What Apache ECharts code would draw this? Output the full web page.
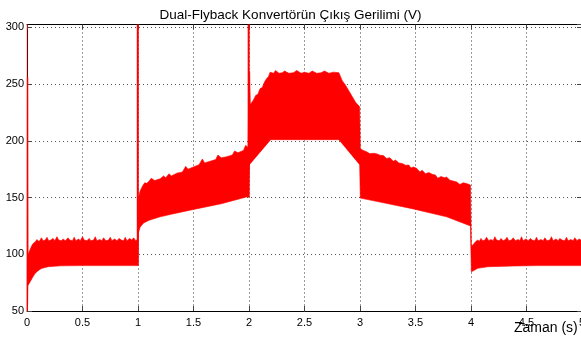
<!DOCTYPE html>
<html>
<head>
<meta charset="utf-8">
<script src="https://cdn.jsdelivr.net/npm/echarts@6/dist/echarts.min.js"></script>
<style>
  html, body { margin: 0; padding: 0; background: #fff; }
  #chart { width: 581px; height: 343px; }
</style>
</head>
<body>
<div id="chart"></div>
<script>
// Output voltage of the dual-flyback converter: the switching ripple is dense,
// so it is drawn as the band between its upper and lower envelopes.
const titleText = 'Dual-Flyback Konvertörün Çıkış Gerilimi (V)';
const xLabelText = 'Zaman (s)';

// Time axis (s) and voltage axis (V)
const xMin = 0, xMax = 5, xStep = 0.5;
const yMin = 50, yMax = 302.5, yStep = 50;

// Upper envelope of the ripple: [time s, voltage V]
const upperEnv = [
  [0.000, 50], [0.003, 256], [0.008, 256], [0.010, 100], [0.027, 104], [0.045, 108],
  [0.060, 110], [0.075, 111], [0.090, 113], [0.105, 111.5], [0.115, 112], [0.130, 114.5],
  [0.145, 112], [0.165, 112.5], [0.180, 115], [0.195, 112], [0.215, 112.5], [0.235, 114],
  [0.250, 112], [0.270, 115.5], [0.285, 112.5], [0.310, 112], [0.325, 113.5], [0.345, 112],
  [0.370, 114.5], [0.385, 112.5], [0.410, 112], [0.425, 115], [0.440, 112], [0.465, 113.5],
  [0.480, 112], [0.500, 115.5], [0.515, 112.5], [0.540, 112], [0.560, 114], [0.575, 112],
  [0.600, 112.5], [0.615, 115.5], [0.630, 112], [0.655, 113], [0.675, 112], [0.690, 114.5],
  [0.710, 112], [0.735, 112.5], [0.750, 115], [0.765, 112], [0.790, 113.5], [0.810, 112],
  [0.830, 114], [0.850, 112.5], [0.870, 112], [0.885, 115], [0.900, 112], [0.925, 114],
  [0.945, 112.5], [0.960, 114.5], [0.980, 112], [0.996, 113],
  [1.004, 150], [1.020, 156], [1.040, 160], [1.060, 163], [1.080, 162.5], [1.100, 164.5],
  [1.120, 167], [1.150, 165], [1.200, 166.5], [1.230, 169], [1.250, 167.5], [1.280, 171],
  [1.300, 169], [1.350, 171.5], [1.400, 172.5], [1.430, 177.5], [1.450, 175], [1.500, 177],
  [1.550, 179], [1.580, 184], [1.600, 180.5], [1.650, 182], [1.700, 183.5], [1.720, 187.5],
  [1.750, 185], [1.800, 186], [1.850, 187.5], [1.870, 191], [1.900, 189.5], [1.950, 191.5],
  [1.970, 196], [1.992, 194],
  [2.000, 261], [2.006, 261], [2.012, 232], [2.040, 236], [2.060, 240], [2.080, 241],
  [2.100, 246], [2.120, 247], [2.140, 252], [2.160, 255], [2.175, 256.5], [2.190, 260.5],
  [2.220, 259.5], [2.240, 262], [2.270, 259.5], [2.300, 260], [2.320, 261.5], [2.360, 259.5],
  [2.400, 260], [2.430, 262], [2.470, 259.5], [2.500, 260.5], [2.540, 259.5], [2.570, 261.5],
  [2.610, 259.5], [2.650, 260], [2.680, 261.5], [2.720, 259.5], [2.760, 260.5], [2.810, 260],
  [2.840, 253], [2.870, 249], [2.900, 244], [2.930, 239], [2.960, 234], [2.997, 230],
  [3.003, 193], [3.030, 191.5], [3.060, 190.3], [3.090, 188.5], [3.120, 189], [3.150, 188.5],
  [3.180, 187.3], [3.210, 187], [3.240, 184.5], [3.270, 185], [3.300, 182], [3.320, 183],
  [3.350, 180.5], [3.380, 180], [3.410, 178.5], [3.440, 178.6], [3.460, 176], [3.480, 177],
  [3.510, 175.7], [3.540, 172.5], [3.560, 174], [3.590, 171], [3.620, 172], [3.650, 170.5],
  [3.680, 169.8], [3.700, 167], [3.730, 168.5], [3.760, 167.5], [3.780, 168], [3.810, 165.3],
  [3.840, 164.5], [3.870, 163.8], [3.900, 161.5], [3.930, 163], [3.960, 162.3], [3.995, 161],
  [4.003, 107], [4.020, 108.5], [4.040, 111], [4.060, 112.5], [4.075, 111.5], [4.090, 114],
  [4.105, 112], [4.125, 112.5], [4.140, 115], [4.160, 112], [4.180, 113], [4.200, 112],
  [4.215, 115.5], [4.230, 112.5], [4.255, 112], [4.270, 114], [4.290, 112], [4.310, 113],
  [4.325, 115], [4.340, 112], [4.365, 112.5], [4.380, 114.5], [4.400, 112], [4.425, 113],
  [4.440, 112], [4.455, 115.5], [4.470, 112], [4.495, 113.5], [4.515, 112], [4.535, 114],
  [4.550, 112.5], [4.575, 112], [4.590, 115], [4.605, 112], [4.630, 113], [4.650, 112],
  [4.665, 114.5], [4.685, 112], [4.710, 112.5], [4.725, 115.5], [4.740, 112], [4.765, 113.5],
  [4.785, 112], [4.800, 114], [4.820, 112.5], [4.845, 112], [4.860, 115], [4.875, 112],
  [4.900, 113], [4.920, 112], [4.935, 114.5], [4.955, 112], [4.975, 113.5], [5.000, 112]
];

// Lower envelope of the ripple: [time s, voltage V]
const lowerEnv = [
  [0.000, 50], [0.004, 50], [0.008, 72], [0.012, 73], [0.030, 76], [0.050, 79.5],
  [0.072, 83], [0.100, 85.5], [0.130, 87.5], [0.190, 89], [0.300, 89.8], [0.500, 90],
  [0.996, 90],
  [1.004, 119], [1.020, 124], [1.050, 127.5], [1.100, 130], [1.200, 133], [1.300, 135.3],
  [1.500, 139.5], [1.750, 144.5], [1.995, 151],
  [2.004, 179], [2.195, 201], [2.810, 201], [2.997, 179],
  [3.003, 149.5], [3.180, 146], [3.480, 140], [3.780, 133], [3.995, 125],
  [4.003, 84.5], [4.030, 86], [4.060, 87.6], [4.150, 89], [4.390, 89.7], [4.600, 90],
  [5.000, 90]
];

// Switching transients: time, start voltage, peak voltage
const spikeTimes = [0.998, 1.997];
const spikeBase = [90, 150];
const spikePeak = [302.5, 302.5];
// Start-up overshoot at t = 0 (drawn faint: it is a single sample)
const startSpike = [[0.003, 50, 302.5]];

const FONT = '"Liberation Sans", Arial, Helvetica, sans-serif';
const RED = '#ff0000';

const chart = echarts.init(document.getElementById('chart'), null, { renderer: 'canvas' });

function axisCommon(extra) {
  return Object.assign({
    type: 'value',
    axisLine: { show: true, onZero: false, lineStyle: { color: '#000', width: 1 } },
    axisTick: { show: true, inside: true, length: 5, lineStyle: { color: '#444' } },
    splitLine: { show: false },
    axisLabel: { show: false }
  }, extra);
}

function spikeRenderer(color, width) {
  return function (params, api) {
    const p0 = api.coord([api.value(0), api.value(1)]);
    const p1 = api.coord([api.value(0), api.value(2)]);
    return {
      type: 'line',
      shape: { x1: p0[0], y1: p0[1], x2: p1[0], y2: p1[1] },
      style: { stroke: color, lineWidth: width }
    };
  };
}

chart.setOption({
  animation: false,
  backgroundColor: '#fff',
  title: {
    text: titleText,
    left: 'center',
    top: 3,
    textStyle: { fontFamily: FONT, fontSize: 13.5, fontWeight: 'normal', color: '#000' }
  },
  grid: {
    left: 27, top: 24.5, width: 555, height: 286.5,
    containLabel: false, outerBoundsMode: 'none'
  },
  xAxis: [
    axisCommon({
      position: 'bottom', min: xMin, max: xMax, interval: xStep,
      axisLabel: { show: true, fontFamily: FONT, fontSize: 11, color: '#000', margin: 6 },
      splitLine: { show: true, lineStyle: { color: '#333', type: [1, 3], width: 1 } }
    }),
    axisCommon({ position: 'top', min: xMin, max: xMax, interval: xStep })
  ],
  yAxis: [
    axisCommon({
      position: 'left', min: yMin, max: yMax, interval: yStep,
      axisLabel: { show: true, fontFamily: FONT, fontSize: 11, color: '#000', margin: 3, showMaxLabel: false },
      splitLine: { show: true, lineStyle: { color: '#555', type: [1, 3], width: 1 } }
    }),
    axisCommon({ position: 'right', min: yMin, max: yMax, interval: yStep })
  ],
  graphic: [{
    type: 'text',
    left: 514, top: 321,
    style: { text: xLabelText, font: '14px ' + FONT, fill: '#000' }
  }],
  series: [
    {
      // ripple band between the envelopes
      type: 'custom',
      coordinateSystem: 'cartesian2d',
      data: [[xMin, yMin]],
      renderItem: function (params, api) {
        const pts = upperEnv.map(function (p) { return api.coord(p); })
          .concat(lowerEnv.slice().reverse().map(function (p) { return api.coord(p); }));
        return {
          type: 'polygon',
          shape: { points: pts },
          style: { fill: RED, stroke: RED, lineWidth: 0.6 }
        };
      },
      z: 3
    },
    {
      type: 'custom',
      coordinateSystem: 'cartesian2d',
      data: spikeTimes.map(function (t, i) { return [t, spikeBase[i], spikePeak[i]]; }),
      renderItem: spikeRenderer(RED, 2),
      z: 4
    },
    {
      type: 'custom',
      coordinateSystem: 'cartesian2d',
      data: startSpike,
      renderItem: spikeRenderer('rgba(255,0,0,0.45)', 1.5),
      z: 2
    }
  ]
});
</script>
</body>
</html>
